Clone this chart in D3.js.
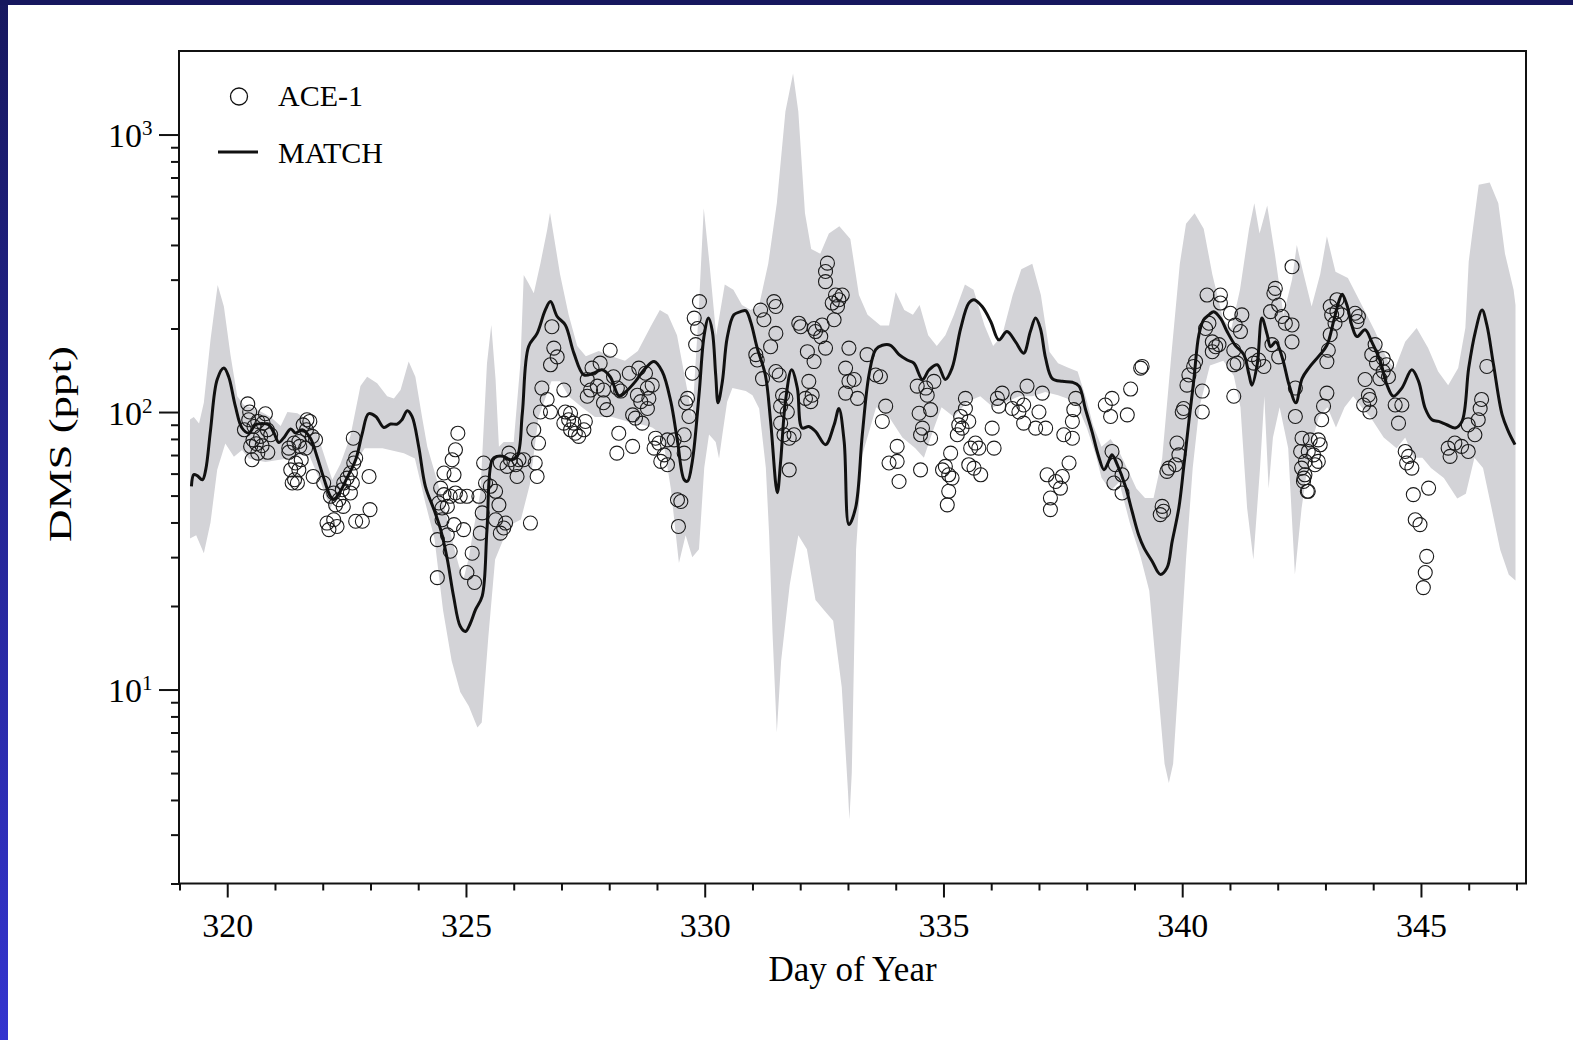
<!DOCTYPE html>
<html><head><meta charset="utf-8">
<script src="https://cdn.jsdelivr.net/npm/d3@7"></script>
<style>html,body{margin:0;padding:0;background:#fff;} svg{display:block;}</style>
</head><body><svg id="c" width="1573" height="1040"></svg>
<script>
// ---------------- data ----------------
const xMajorTicks = [320, 325, 330, 335, 340, 345];
const xMinorTicks = [319,321,322,323,324,326,327,328,329,331,332,333,334,336,337,338,339,341,342,343,344,346,347];
const yMajorTicks = [10, 100, 1000];
const yMinorTicks = [2,3,4,5,6,7,8,9,20,30,40,50,60,70,80,90,200,300,400,500,600,700,800,900];
const seriesNames = ["ACE-1", "MATCH"];
const axisTitles = ["Day of Year", "DMS (ppt)"];

// MATCH model (day, ppt)
const matchModel = [[319.25,54],[319.30,59.5],[319.37,59],[319.48,57],[319.55,62],[319.65,86],[319.79,131],[319.93,144],[320.03,134],[320.17,105],[320.31,87.6],[320.45,84],[320.59,90],[320.73,91],[320.87,90],[320.98,84],[321.08,77.7],[321.18,80.6],[321.33,86.9],[321.43,84],[321.57,86.4],[321.74,80.6],[321.88,69.2],[322.02,57.9],[322.16,49.7],[322.23,48.4],[322.37,51.8],[322.51,57.9],[322.69,67.3],[322.83,84],[322.96,98.6],[323.11,96.4],[323.28,88],[323.42,90.5],[323.56,90.5],[323.66,93.8],[323.77,101],[323.87,96.4],[324.01,75],[324.15,54],[324.33,44.5],[324.47,37.7],[324.61,29.4],[324.74,21.7],[324.88,16.9],[324.99,16.2],[325.09,17.3],[325.20,19.4],[325.34,21.7],[325.44,37.7],[325.55,67.3],[325.65,69.2],[325.79,69.2],[325.93,67.3],[326.07,69.2],[326.18,99],[326.31,172],[326.49,192],[326.66,233],[326.77,250],[326.91,221],[327.08,206],[327.26,163],[327.47,136],[327.67,138],[327.85,142],[328.02,134],[328.21,114],[328.34,118],[328.55,129],[328.76,144],[328.94,152],[329.11,140],[329.29,109],[329.43,78.4],[329.57,57],[329.64,56.3],[329.74,66.4],[329.88,115],[329.99,190],[330.08,218],[330.16,195],[330.23,136],[330.28,108],[330.37,129],[330.47,185],[330.61,224],[330.75,230],[330.86,232],[330.96,212],[331.10,170],[331.27,136],[331.38,92.5],[331.52,51.2],[331.59,66.4],[331.69,109],[331.82,142],[331.94,122],[332.04,87.6],[332.18,88.7],[332.32,85.2],[332.53,76.3],[332.71,90],[332.81,103],[332.92,78.4],[333.02,39.3],[333.16,45.2],[333.30,82.9],[333.44,136],[333.58,168],[333.72,174],[333.89,174],[334.07,161],[334.24,154],[334.38,150],[334.56,131],[334.70,142],[334.87,148],[335.04,131],[335.18,144],[335.36,200],[335.53,247],[335.64,254],[335.81,240],[335.99,212],[336.16,182],[336.33,195],[336.51,179],[336.68,163],[336.82,195],[336.93,218],[337.03,200],[337.14,156],[337.28,132],[337.49,129],[337.70,128],[337.84,124],[337.97,103],[338.11,85.2],[338.25,69.2],[338.36,62],[338.46,66.4],[338.53,70.2],[338.64,64.6],[338.81,54],[338.95,43.9],[339.09,36],[339.20,32.4],[339.37,29],[339.54,26],[339.68,27.4],[339.79,34.2],[339.93,45.2],[340.03,62.9],[340.14,92.5],[340.24,129],[340.35,190],[340.45,215],[340.56,224],[340.66,230],[340.80,218],[340.94,195],[341.11,174],[341.29,161],[341.40,136],[341.46,125],[341.57,148],[341.67,218],[341.78,190],[341.85,172],[341.96,179],[342.10,156],[342.24,125],[342.38,108],[342.51,132],[342.65,144],[342.86,159],[343.03,174],[343.17,212],[343.28,250],[343.35,266],[343.45,243],[343.55,206],[343.66,187],[343.83,198],[343.97,179],[344.15,152],[344.29,125],[344.42,114],[344.60,122],[344.81,142],[344.95,129],[345.09,103],[345.23,93.8],[345.37,92.5],[345.54,90],[345.72,87.6],[345.86,92.5],[346.00,144],[346.14,195],[346.28,233],[346.38,206],[346.52,148],[346.70,97.8],[346.83,85.2],[346.97,76.3]];

// MATCH range (grey band): upper edge (day, ppt)
const bandUpper = [[319.22,94],[319.30,96],[319.41,91],[319.51,108],[319.65,182],[319.80,287],[319.93,240],[320.07,160],[320.21,114],[320.35,106],[320.63,102],[320.91,96],[321.12,89],[321.26,100],[321.47,99],[321.67,94],[321.88,84],[322.09,65],[322.20,57],[322.37,65],[322.58,82],[322.79,124],[322.93,134],[323.14,127],[323.35,114],[323.49,112],[323.63,120],[323.80,152],[323.94,134],[324.08,96],[324.19,75],[324.33,62],[324.47,51],[324.61,41],[324.74,33],[324.85,28],[324.95,25],[325.06,30],[325.16,38],[325.30,51],[325.44,150],[325.53,206],[325.62,131],[325.69,75],[325.79,78],[326.0,78],[326.14,150],[326.21,312],[326.31,291],[326.42,268],[326.56,344],[326.70,453],[326.76,523],[326.85,420],[326.97,314],[327.15,224],[327.33,173],[327.51,159],[327.78,166],[328.05,159],[328.33,153],[328.60,166],[328.88,205],[329.06,233],[329.23,224],[329.42,189],[329.60,129],[329.74,96],[329.87,224],[329.98,543],[330.10,342],[330.24,189],[330.42,288],[330.60,276],[330.78,243],[330.96,233],[331.14,243],[331.33,342],[331.51,566],[331.69,1210],[331.85,1660],[331.96,1210],[332.10,520],[332.23,387],[332.42,372],[332.60,440],[332.82,467],[333.05,420],[333.23,264],[333.41,224],[333.68,205],[333.86,205],[334.0,271],[334.18,233],[334.36,224],[334.50,243],[334.68,189],[334.86,173],[335.04,189],[335.22,224],[335.45,288],[335.63,276],[335.86,205],[336.04,173],[336.23,189],[336.45,264],[336.63,327],[336.86,342],[337.04,264],[337.22,165],[337.40,150],[337.59,145],[337.81,140],[338.0,110],[338.13,90],[338.31,75],[338.50,80],[338.68,72],[338.86,62],[339.04,53],[339.22,49],[339.40,49],[339.58,68],[339.77,159],[339.95,342],[340.08,477],[340.26,520],[340.45,458],[340.63,314],[340.86,215],[341.03,200],[341.21,276],[341.40,458],[341.51,566],[341.62,440],[341.78,555],[341.94,372],[342.12,224],[342.30,300],[342.40,400],[342.53,320],[342.71,240],[342.89,314],[343.03,430],[343.21,320],[343.47,304],[343.76,243],[344.04,195],[344.31,152],[344.46,144],[344.67,179],[344.91,201],[345.15,170],[345.36,140],[345.57,125],[345.78,144],[345.93,201],[346.0,348],[346.07,434],[346.21,659],[346.44,672],[346.62,566],[346.76,372],[346.94,276],[346.98,243]];

// MATCH range (grey band): lower edge (day, ppt)
const bandLower = [[319.22,35],[319.35,36],[319.51,31],[319.65,40],[319.79,62],[319.96,77],[320.14,69],[320.31,73],[320.45,68],[320.80,66],[321.26,68],[321.70,71],[321.97,55],[322.16,45],[322.34,52],[322.61,63],[322.88,74],[323.25,74],[323.70,71],[323.93,68],[324.15,47],[324.34,35],[324.52,19.3],[324.70,12.7],[324.88,9.8],[325.06,8.7],[325.24,7.3],[325.33,7.6],[325.47,15.6],[325.61,29.4],[325.79,35],[325.97,39.5],[326.15,41],[326.34,55],[326.52,96],[326.79,129],[326.97,129],[327.15,114],[327.43,104],[327.70,96],[328.06,96],[328.42,92],[328.70,90],[328.90,88],[329.11,83],[329.29,53],[329.46,28.6],[329.60,36],[329.74,30],[329.88,32],[329.99,63],[330.09,83],[330.23,78],[330.30,68],[330.37,83],[330.47,109],[330.58,122],[330.86,119],[331.0,115],[331.14,103],[331.28,63],[331.35,36],[331.42,16],[331.51,7],[331.60,12.7],[331.78,23.8],[331.96,36],[332.14,32],[332.32,21],[332.50,19.3],[332.69,17.7],[332.87,10.2],[333.0,4.3],[333.03,3.4],[333.08,5],[333.17,32],[333.30,70],[333.59,104],[333.86,96],[334.14,81],[334.41,74],[334.59,68.5],[334.73,81],[334.96,104],[335.22,96],[335.50,109],[335.77,114],[336.04,104],[336.32,109],[336.59,114],[336.86,114],[337.13,118],[337.40,115],[337.59,112],[337.81,105],[338.0,88],[338.19,70],[338.31,58],[338.50,52],[338.68,56],[338.90,40],[339.13,30],[339.31,22.7],[339.49,10.2],[339.63,5.4],[339.72,4.6],[339.81,5.4],[339.95,12.7],[340.08,29.4],[340.22,62.8],[340.36,104],[340.58,147],[340.86,153],[341.08,135],[341.22,104],[341.36,45],[341.49,29.4],[341.63,62.8],[341.72,114],[341.81,53],[341.90,81],[342.04,104],[342.22,74],[342.36,26],[342.50,45],[342.68,74],[342.86,96],[343.04,104],[343.22,88],[343.40,104],[343.58,114],[343.76,104],[343.94,96],[344.22,81],[344.49,74],[344.67,81],[344.85,68.5],[345.03,68.5],[345.21,62.8],[345.48,57.8],[345.76,48.8],[345.94,50.8],[346.12,68.5],[346.30,62.8],[346.48,44.9],[346.66,31.9],[346.84,25.9],[346.98,24.7]];

// ACE-1 observations (day, ppt)
const aceObs = [[320.43,107],[320.47,100],[320.45,93.8],[320.36,86.3],[320.56,88.7],[320.64,92.5],[320.80,98.6],[320.75,91.2],[320.84,86.3],[320.91,82.8],[320.70,81.7],[320.54,79.4],[320.61,76.9],[320.49,75.2],[320.73,75.6],[320.85,71.6],[320.64,71.1],[320.52,67.3],
[321.29,74.1],[321.29,71.6],[321.40,77.3],[321.50,78.3],[321.59,89.9],[321.67,93.8],[321.73,92.5],[321.66,86.3],[321.78,81.7],[321.85,79.4],[321.52,75.2],[321.64,74.1],[321.55,67.3],[321.43,65.5],[321.33,61.9],[321.50,61.9],[321.47,55.5],[321.36,55.5],[321.41,57.0],[321.80,58.6],
[322.02,55.5],[322.16,49.7],[322.23,51.1],[322.27,46.3],[322.34,48.3],[322.41,52.5],[322.44,55.5],[322.51,57.8],[322.58,60.3],[322.62,55.5],[322.65,65.5],[322.69,68.2],[322.64,80.5],[322.58,51.1],[322.97,58.6],[322.43,45.7],[322.09,39.8],[322.13,37.7],[322.23,40.9],[322.30,38.7],[322.69,40.4],[322.83,40.4],[322.99,44.5],
[324.40,25.3],[324.83,83.9],[324.78,73.1],[324.71,67.3],[324.75,59.4],[324.54,60.3],[324.47,53.2],[324.54,50.4],[324.43,47.0],[324.50,45.1],[324.61,45.7],[324.67,49.7],[324.78,51.1],[324.88,49.7],[325.02,49.7],[324.50,40.9],[324.75,39.3],[324.95,37.7],[324.40,34.7],[324.61,36.1],[324.67,31.5],[325.02,26.4],[325.13,31.0],[325.18,24.3],
[325.37,65.5],[325.41,55.5],[325.51,54.0],[325.27,49.7],[325.34,43.3],[325.30,36.6],[325.62,51.8],[325.69,46.3],[325.72,36.6],[325.79,38.2],[325.83,39.8],[325.62,40.9],[325.72,65.5],[325.90,71.1],[325.93,67.3],[326.04,64.6],[325.86,63.7],[326.11,67.3],[326.07,58.6],[326.21,67.3],[326.35,39.8],[326.45,65.5],[326.49,58.6],[326.52,77.3],[326.42,86.3],
[326.80,203],[326.84,170],[326.91,158],[326.77,148],[326.59,122],[326.70,111],[326.56,100],[326.77,100],[327.05,120],[327.08,100],[327.19,99],[327.15,93.8],[327.05,91.2],[327.26,91.2],[327.19,86.3],[327.29,83.9],[327.36,81.7],[327.47,86.3],[327.50,92.5],
[327.64,144],[327.81,150],[328.02,167],[327.54,131],[327.61,120],[327.75,124],[327.88,120],[327.54,114],[327.88,108],[327.95,102],[328.09,134],[328.20,83.9],[328.16,71.1],
[328.17,122],[328.24,119],[328.42,138],[328.62,144],[328.76,138],[328.90,125],[328.80,122],[328.59,115],[328.66,109],[328.83,112],[328.80,103],[328.49,97.7],[328.55,95.1],[328.69,91.2],[328.49,75.2],[328.97,80.5],[329.04,77.3],[328.94,74.1],[329.15,70.1],[329.08,66.4],[329.22,64.6],[329.22,79.4],[329.36,79.4],[329.57,82.8],[329.57,71.1],[329.67,96.4],[329.60,108],[329.64,112],[329.74,138],[329.81,175],[329.85,200],[329.78,218],[329.89,250],[329.43,48.3],[329.50,47.6],[329.45,38.7],
[331.17,233],[331.24,215],[331.45,250],[331.49,240],[331.49,192],[331.38,172],[331.07,161],[331.10,154],[331.21,132],[331.49,140],[331.56,136],[331.63,115],[331.70,112],[331.59,105],[331.73,100],[331.59,91.2],[331.66,82.8],[331.77,80.5],[331.87,82.8],[331.77,61.9],
[331.97,209],[332.01,203],[332.29,200],[332.32,195],[332.46,206],[332.43,187],[332.71,215],[332.53,170],[332.15,165],[332.29,152],[332.57,344],[332.53,321],[332.53,295],[332.74,264],[332.81,254],[332.67,247],[332.78,240],[332.88,264],[333.02,170],[332.95,144],[333.02,129],[332.95,117],[332.18,129],[332.11,112],[332.25,115],[332.22,109],
[333.40,161],[333.13,131],[333.20,112],[333.58,136],[333.68,134],[333.79,105],[333.72,92.5],[334.03,75.2],[334.03,66.4],[333.86,65.5],[334.07,56.2],[334.52,61.9],[334.45,124],[334.63,122],[334.66,115],[334.80,129],[334.73,102],[334.49,99],[334.56,87.5],[334.52,82.8],[334.73,80.5],[334.98,61.9],[335.04,63.7],[335.11,59.4],[335.18,57.8],[335.15,71.1],[335.11,51.8],[335.08,46.3],[335.46,112],[335.46,103],[335.36,96.4],[335.53,92.5],[335.32,89.9],[335.39,87.5],[335.29,82.8],[335.57,74.1],[335.67,77.3],[335.74,74.1],[335.78,59.4],[335.64,62.8],[335.53,64.6],[336.06,74.1],[336.02,87.5],[336.13,112],[336.23,117],[336.16,105],[336.44,103],[336.58,100],[336.55,112],[336.68,106],[336.75,124],[337.07,117],[337.00,100],[336.68,91.2],[336.93,87.5],[337.14,87.5],[337.17,59.4],[337.35,56.2],[337.45,53.2],[337.49,58.6],[337.24,49.0],[337.24,44.5],[337.52,82.8],[337.63,65.5],[337.70,80.5],[337.70,92.5],[337.73,102],[337.77,112],
[338.53,72.1],[338.60,64.6],[338.74,59.4],[338.57,55.5],[338.74,51.1],[338.39,106],[338.53,112],[338.50,96.4],[338.85,97.7],[338.92,121],[339.13,144],[339.16,146],[339.58,45.7],[339.54,42.7],[339.61,43.9],[339.72,62.8],[339.68,61.1],[339.86,64.6],[339.93,70.1],[339.89,77.3],[340.00,100],[340.03,103],[340.10,125],[340.14,136],[340.24,146],[340.28,152],[340.42,119],[340.42,100],[340.52,264],[340.80,264],[340.80,247],[341.01,227],[341.25,224],[341.22,195],[341.11,206],[340.56,209],[340.49,200],[340.63,179],[340.70,172],[340.77,175],[340.63,165],[341.08,167],[341.15,150],[341.08,148],[341.08,114],[341.50,150],[341.60,154],[341.71,146],[341.46,161],[341.85,230],[341.95,279],[341.92,268],[342.02,243],[342.09,221],[342.16,209],[342.30,206],[342.30,179],[341.88,175],[342.02,158],[342.30,334],[342.37,122],[342.37,96.4],[342.51,80.5],[342.48,72.1],[342.58,66.4],[342.55,57.8],[342.62,51.8],
[342.68,79.4],[342.85,79.4],[342.89,76.2],[342.64,72.1],[342.75,70.1],[342.85,66.4],[342.78,64.6],[342.50,62.8],[342.57,59.4],[342.54,56.2],[342.64,51.8],[343.03,117],[342.96,105],[342.92,93.8],[343.03,152],[343.06,167],[343.10,190],[343.13,224],[343.10,240],[343.24,254],[343.24,230],[343.34,224],[343.20,209],[343.62,227],[343.69,221],[343.66,212],[344.04,175],[343.97,161],[344.07,150],[344.21,156],[344.28,148],[344.21,140],[344.32,134],[344.14,132],[343.83,131],[343.90,115],[343.80,106],[343.93,111],[343.93,100],[344.46,106],[344.60,106],[344.53,91.2],[344.67,72.1],[344.74,69.2],[344.70,65.5],[344.81,62.8],[344.84,50.4],[345.16,53.2],[344.88,40.9],[344.98,39.3],[345.12,30.2],[345.09,26.4],[345.05,23.3],[345.57,74.1],[345.61,69.2],[345.71,77.3],[345.85,75.2],[345.99,72.1],[345.99,89.9],[346.13,82.8],[346.20,93.8],[346.27,111],[346.24,103],[346.38,146]];

// ---------------- drawing ----------------
const W = 1573, H = 1040;
const plot = {left: 179, right: 1526, top: 51, bottom: 883.5};
const FONT = "'Liberation Serif','Times New Roman',Times,serif";
const svg = d3.select("#c");

const x = d3.scaleLinear().domain([318.99, 347.2]).range([plot.left, plot.right]);
const y = d3.scaleLog().domain([2, 2000]).range([plot.bottom, plot.top]);

const defs = svg.append("defs");
const grad = defs.append("linearGradient").attr("id","leftband").attr("x1",0).attr("y1",0).attr("x2",0).attr("y2",1);
grad.append("stop").attr("offset","0%").attr("stop-color","#17185f");
grad.append("stop").attr("offset","100%").attr("stop-color","#3434cf");
defs.append("clipPath").attr("id","clip").append("rect")
  .attr("x",plot.left).attr("y",plot.top).attr("width",plot.right-plot.left).attr("height",plot.bottom-plot.top);

svg.append("rect").attr("width",W).attr("height",H).attr("fill","#fff");
svg.append("rect").attr("x",0).attr("y",0).attr("width",8).attr("height",H).attr("fill","url(#leftband)");
svg.append("rect").attr("x",0).attr("y",0).attr("width",W).attr("height",5).attr("fill","#16175e");

const plotG = svg.append("g").attr("clip-path","url(#clip)");

// grey band
const edge = d3.line().x(d => x(d[0])).y(d => y(d[1]));
plotG.append("path")
  .attr("d", edge(bandUpper.concat(bandLower.slice().reverse())) + "Z")
  .attr("fill","#d3d3d7").attr("stroke","none");

// observations
plotG.append("g").selectAll("circle").data(aceObs).join("circle")
  .attr("cx", d => x(d[0])).attr("cy", d => y(d[1])).attr("r", 7)
  .attr("fill","none").attr("stroke","#1a1a1a").attr("stroke-width",1.1);

// model line
plotG.append("path")
  .attr("d", d3.line().x(d => x(d[0])).y(d => y(d[1])).curve(d3.curveCatmullRom.alpha(0.5))(matchModel))
  .attr("fill","none").attr("stroke","#111").attr("stroke-width",3).attr("stroke-linejoin","round");

// axes
function styleAxis(g){
  g.select(".domain").remove();
  g.selectAll(".tick line").attr("stroke","#111").attr("stroke-width",2);
}
svg.append("g").attr("transform",`translate(0,${plot.bottom})`)
  .call(d3.axisBottom(x).tickValues(xMinorTicks).tickSize(7).tickSizeOuter(0).tickFormat(""))
  .call(styleAxis);
const xg = svg.append("g").attr("transform",`translate(0,${plot.bottom})`)
  .call(d3.axisBottom(x).tickValues(xMajorTicks).tickSize(14).tickSizeOuter(0).tickFormat(d3.format("d")))
  .call(styleAxis);
xg.selectAll(".tick text").attr("y",53.3).attr("dy",null)
  .attr("font-family",FONT).attr("font-size",34).attr("fill","#000");

svg.append("g").attr("transform",`translate(${plot.left},0)`)
  .call(d3.axisLeft(y).tickValues(yMinorTicks).tickSize(8).tickSizeOuter(0).tickFormat(""))
  .call(styleAxis);
const yg = svg.append("g").attr("transform",`translate(${plot.left},0)`)
  .call(d3.axisLeft(y).tickValues(yMajorTicks).tickSize(20).tickSizeOuter(0).tickFormat(""))
  .call(styleAxis);
yg.selectAll(".tick text").each(function(d){
  const t = d3.select(this);
  t.text(null).attr("x",-26.5).attr("y",12).attr("dy",null)
   .attr("text-anchor","end").attr("font-family",FONT).attr("font-size",34).attr("fill","#000");
  t.append("tspan").text("10");
  t.append("tspan").attr("dy",-12).attr("font-size",21).text(String(Math.round(Math.log10(d))));
});

// frame
svg.append("rect").attr("x",plot.left).attr("y",plot.top)
  .attr("width",plot.right-plot.left).attr("height",plot.bottom-plot.top)
  .attr("fill","none").attr("stroke","#111").attr("stroke-width",2);

// titles
svg.append("text").attr("x",(plot.left+plot.right)/2).attr("y",981)
  .attr("text-anchor","middle").attr("font-family",FONT).attr("font-size",35).attr("fill","#000")
  .text(axisTitles[0]);
svg.append("text").attr("transform","translate(71,444) rotate(-90)")
  .attr("text-anchor","middle").attr("font-family",FONT).attr("font-size",32).attr("fill","#000")
  .attr("textLength",196).attr("lengthAdjust","spacingAndGlyphs")
  .text(axisTitles[1]);

// legend
const lg = svg.append("g");
lg.append("circle").attr("cx",239).attr("cy",96.5).attr("r",8.5)
  .attr("fill","none").attr("stroke","#111").attr("stroke-width",1.3);
lg.append("text").attr("x",278).attr("y",106).attr("font-family",FONT).attr("font-size",30).attr("fill","#000").text(seriesNames[0]);
lg.append("line").attr("x1",218).attr("x2",258).attr("y1",152).attr("y2",152).attr("stroke","#111").attr("stroke-width",3);
lg.append("text").attr("x",278).attr("y",163).attr("font-family",FONT).attr("font-size",30).attr("fill","#000").text(seriesNames[1]);
</script>
</body></html>
